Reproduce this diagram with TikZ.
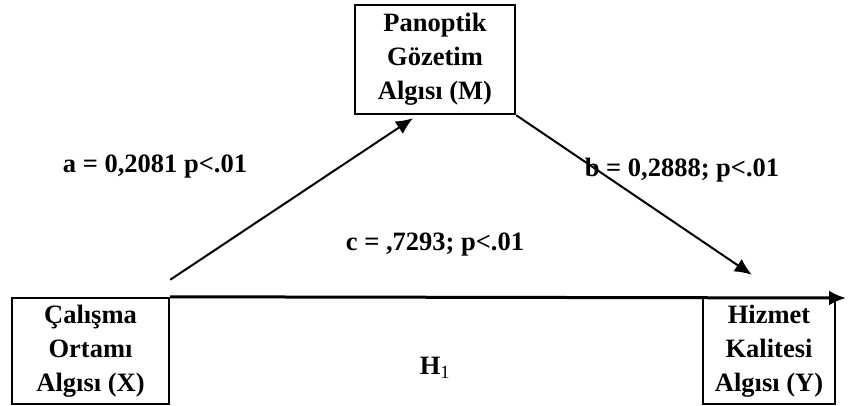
\documentclass[tikz,border=0pt]{standalone}
\usepackage{fontspec}
\setmainfont{Liberation Serif}
\usetikzlibrary{
    arrows.meta,
    calc,
    positioning
}
\tikzset{
  every path/.style={
    black,
    line width=2pt
  },
  every node/.style={
    font=\bfseries\fontsize{26.5}{34}\selectfont,
    inner sep=0pt
  },
  varbox/.style={
    draw,
    rectangle,
    align=center,
    line width=2.4pt
  },
  coef/.style={
    anchor=center
  },
  path arrow/.style={
    -{Latex[length=17pt,width=15pt]}
  }
}

\begin{document}
\begin{tikzpicture}[x=1pt, y=1pt]
    \useasboundingbox (0,0) rectangle (848,406);

    % değişkenler
    \node[varbox, minimum width=157pt, minimum height=106pt] (X) at (90.5,55) {Çalışma\\Ortamı\\Algısı (X)};
    \node[varbox, minimum width=160pt, minimum height=109pt] (M) at (435,346.5) {Panoptik\\Gözetim\\Algısı (M)};
    \node[varbox, minimum width=132pt, minimum height=106pt] (Y) at (769,55) {Hizmet\\Kalitesi\\Algısı (Y)};
    \coordinate (end) at (846,108);

    % yollar
    \draw[path arrow] ([yshift=17pt]X.north east) -- ([xshift=-22pt, yshift=-3pt]M.south);
    \draw[path arrow] (M.south east) -- ([xshift=50pt, yshift=22pt]Y.north west);
    \draw[path arrow, line width=3pt] (X.north east) -- (end);

    % katsayılar
    \node[coef] (a) at (155,239) {a = 0,2081 p<.01};
    \node[coef] (b) at (682,236) {b = 0,2888; p<.01};
    \node[coef] (c) at (435,161) {c = ,7293; p<.01};
    \node[coef] (h) at (435,38) {H{\mdseries\textsubscript{1}}};
\end{tikzpicture}
\end{document}
